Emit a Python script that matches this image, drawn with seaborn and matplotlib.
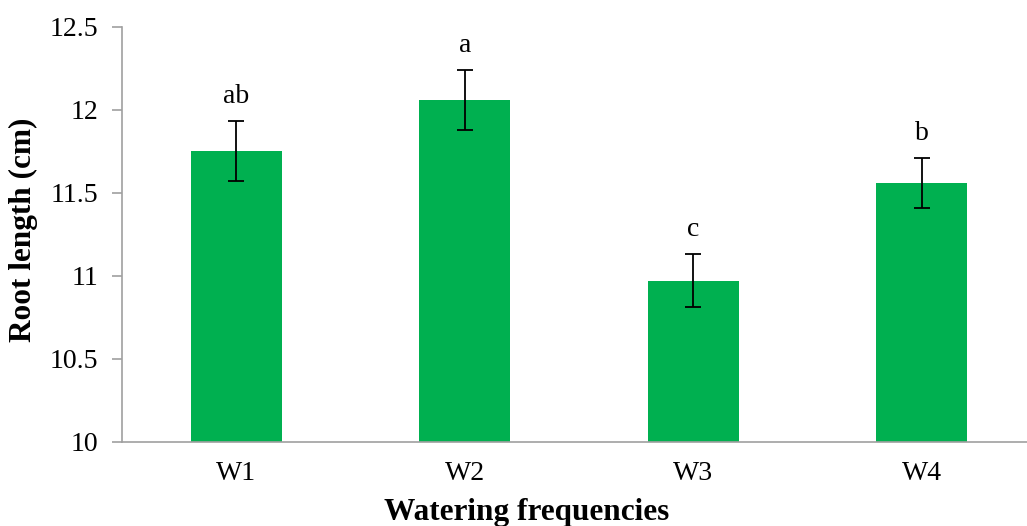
import matplotlib
matplotlib.use("Agg")
import matplotlib.pyplot as plt
import seaborn as sns
import pandas as pd

categories = ["W1", "W2", "W3", "W4"]
means = [11.75, 12.06, 10.97, 11.56]
errors = [0.18, 0.18, 0.16, 0.15]
letters = ["ab", "a", "c", "b"]

sns.set_theme(style="white")
plt.rcParams["font.family"] = ["Liberation Serif", "DejaVu Serif"]
plt.rcParams["text.color"] = "black"
plt.rcParams["axes.labelcolor"] = "black"

df = pd.DataFrame({"cat": categories, "val": means})

fig = plt.figure(figsize=(10.27, 5.26), dpi=100)
ax = fig.add_axes([122 / 1027, 84.3 / 526, 914 / 1027, 415 / 526])

sns.barplot(data=df, x="cat", y="val", color="#00B050", width=0.4,
            errorbar=None, ax=ax, saturation=1, edgecolor="none")
ax.errorbar(x=range(len(categories)), y=means, yerr=errors, fmt="none",
            ecolor="black", elinewidth=1.3, capsize=6, capthick=1.3)

for i, (m, e, t) in enumerate(zip(means, errors, letters)):
    ax.annotate(t, xy=(i, m + e), xytext=(0, 13), textcoords="offset points",
                ha="center", va="baseline", fontsize=20, color="black")

ax.set_ylim(10, 12.5)
ax.set_yticks([10, 10.5, 11, 11.5, 12, 12.5])
ax.set_yticklabels(["10", "10.5", "11", "11.5", "12", "12.5"])
ax.set_xlim(-0.5, 3.5)
ax.set_xticks([-0.5, 0.5, 1.5, 2.5, 3.5], minor=False)
ax.set_xticklabels([])
ax.set_xticks(range(len(categories)), minor=True)
ax.set_xticklabels(categories, minor=True)
ax.tick_params(axis="x", which="minor", length=0, labelsize=20, pad=14, labelcolor="black")
ax.tick_params(axis="x", which="major", length=7, width=1.2, color="#a0a0a0", direction="out")
ax.tick_params(axis="y", length=7, width=1.2, color="#a0a0a0", labelsize=20, pad=10,
               labelcolor="black", direction="out", left=True)

for s in ["top", "right"]:
    ax.spines[s].set_visible(False)
for s in ["left", "bottom"]:
    ax.spines[s].set_color("#a0a0a0")
    ax.spines[s].set_linewidth(1.2)

ax.set_xlabel("Watering frequencies", fontsize=22.5, fontweight="bold", color="black")
ax.set_ylabel("Root length (cm)", fontsize=22.5, fontweight="bold", color="black")
ax.xaxis.set_label_coords((527 - 122) / 914, -56 / 415)
ax.yaxis.set_label_coords(-(122 - 38) / 914, (442 - 230) / 415)

fig.savefig("out.png", dpi=100, facecolor="white")
